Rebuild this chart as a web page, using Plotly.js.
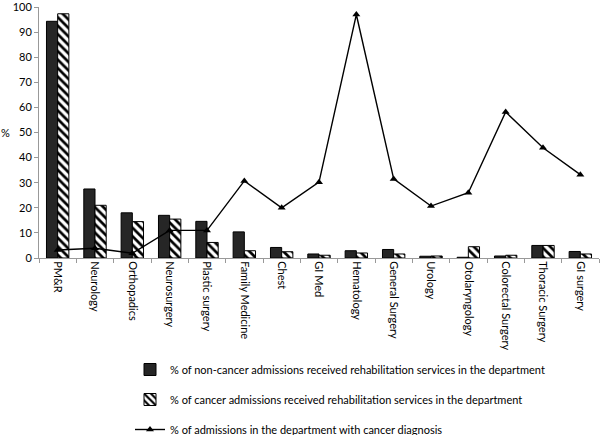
<!DOCTYPE html>
<html>
<head>
<meta charset="utf-8">
<script src="https://cdn.plot.ly/plotly-3.0.1.min.js"></script>
<style>
  html, body { margin: 0; padding: 0; background: #fff; }
  #chart { width: 600px; height: 435px; }
</style>
</head>
<body>
<div id="chart"></div>
<script>
const departments = ['PM&R', 'Neurology', 'Orthopadics', 'Neurosurgery', 'Plastic surgery',
  'Family Medicine', 'Chest', 'GI Med', 'Hematology', 'General Surgery', 'Urology',
  'Otolaryngology', 'Colorectal Surgery', 'Thoracic Surgery', 'GI surgery'];

const nonCancerRehab = [94.3, 27.5, 18, 17, 14.6, 10.4, 4.2, 1.6, 2.9, 3.4, 0.7, 0.3, 0.8, 5, 2.6];
const cancerRehab = [97.3, 21, 14.5, 15.5, 6.2, 2.9, 2.5, 1.1, 2, 1.6, 0.8, 4.5, 1.1, 5, 1.6];
const cancerShare = [3.2, 3.9, 1.9, 11, 11, 30.7, 20, 30.2, 97, 31.5, 20.7, 26, 58.2, 43.9, 33.2];

const legendNames = [
  '% of non-cancer admissions received rehabilitation services in the department',
  '% of cancer admissions received rehabilitation services in the department',
  '% of admissions in the department with cancer diagnosis'
];

const font = {family: 'Lato, "Open Sans", sans-serif', size: 11, color: '#000'};

const traces = [
  {
    type: 'bar', x: departments, y: nonCancerRehab, name: legendNames[0],
    legendgroup: 'a',
    marker: {color: '#262626', line: {color: '#000', width: 1}}
  },
  {
    type: 'bar', x: departments, y: cancerRehab, name: legendNames[1],
    legendgroup: 'b',
    marker: {
      color: '#fff', line: {color: '#000', width: 1},
      pattern: {shape: '\\', fgcolor: '#000', bgcolor: '#fff', size: 6, solidity: 0.45}
    }
  },
  {
    type: 'scatter', mode: 'lines+markers', x: departments, y: cancerShare, name: legendNames[2],
    legendgroup: 'c',
    line: {color: '#000', width: 1.4},
    marker: {symbol: 'triangle-up', size: 7, color: '#000'}
  }
];

const layout = {
  width: 600, height: 435,
  margin: {l: 39, r: 1, t: 7, b: 177, autoexpand: false},
  paper_bgcolor: '#fff', plot_bgcolor: '#fff',
  font: font,
  barmode: 'group', bargap: 0.4, bargroupgap: 0,
  showlegend: true,
  legend: {
    xref: 'container', yref: 'container',
    x: 130 / 600, xanchor: 'left', y: 1 - 355 / 435, yanchor: 'top',
    orientation: 'v', traceorder: 'grouped', tracegroupgap: 11,
    font: font, bgcolor: 'rgba(0,0,0,0)'
  },
  xaxis: {
    type: 'category', range: [-0.5, 14.5], automargin: false,
    tickangle: 90, ticks: 'outside', ticklen: 4, tickcolor: '#999',
    tickson: 'boundaries',
    showline: true, linecolor: '#999', linewidth: 1,
    showgrid: false, zeroline: false, tickfont: font
  },
  yaxis: {
    range: [0, 100], dtick: 10, ticks: 'outside', ticklen: 4, tickcolor: '#999',
    automargin: false, ticklabeloverflow: 'allow',
    showline: true, linecolor: '#999', linewidth: 1,
    showgrid: false, zeroline: false, tickfont: font
  },
  annotations: [{
    text: '%', xref: 'paper', yref: 'paper', x: -34 / 560, y: 0.5,
    xanchor: 'center', yanchor: 'middle', showarrow: false, font: font
  }]
};

Plotly.newPlot('chart', traces, layout, {displayModeBar: false, staticPlot: true});
</script>
</body>
</html>
